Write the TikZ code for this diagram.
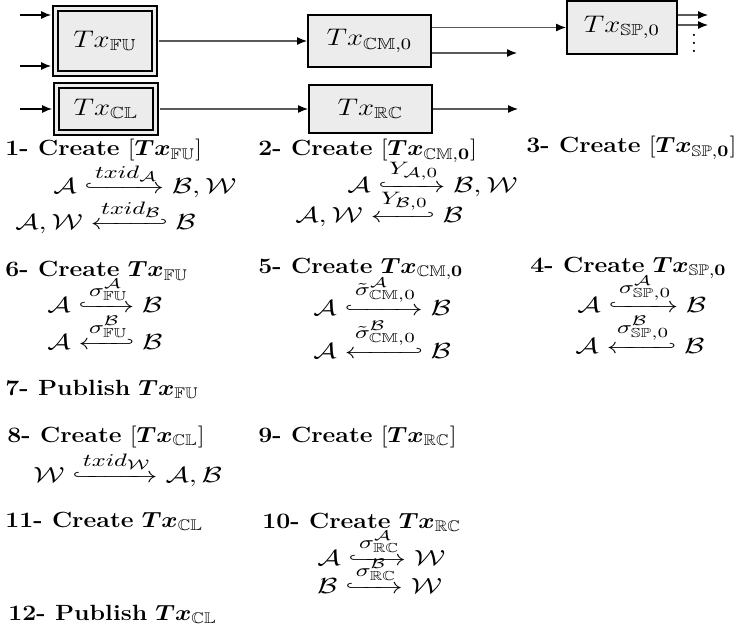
\documentclass[tikz,border=0pt]{standalone}
\usepackage{amssymb}
\usepackage{amsfonts}
\usepackage{mathtools}
\usepackage{bm}
\usepackage{graphicx}
\usetikzlibrary{arrows.meta}

\newcommand{\widetext}[1]{\scalebox{1.13}[1]{\fontsize{11}{13}\selectfont#1}}
\newcommand{\widemath}[1]{\scalebox{1.33}[1]{#1}}
\newcommand{\lbl}[1]{\mbox{\fontsize{9.3}{11}\selectfont$#1$}}

\begin{document}
\begin{tikzpicture}[x=0.5pt,y=0.5pt,yscale=-1,xscale=1,
  every node/.style={font=\fontsize{10.5}{13}\selectfont},
  txbox/.style={draw=black, line width=1pt, fill={rgb,255:red,236;green,236;blue,236}, inner sep=0pt, font=\fontsize{11.5}{14}\selectfont},
  txdbl/.style={txbox, double={rgb,255:red,236;green,236;blue,236}, double distance=1.4pt},
  flow/.style={draw={rgb,255:red,90;green,90;blue,90}, line width=0.6pt, -{Latex[length=5pt,width=4pt,color=black]}},
  step text/.style={anchor=base west, inner sep=0pt}]
\useasboundingbox (0,0) rectangle (740,626);

%Transaction boxes
\node [txdbl, minimum width=49.5pt, minimum height=32.5pt] (fu) at (105,41) {\scalebox{1.2}[1]{$Tx_{\mathbb{FU}}$}};
\node [txdbl, minimum width=49.5pt, minimum height=23.5pt] (cl) at (106,109) {\scalebox{1.2}[1]{$Tx_{\mathbb{CL}}$}};
\node [txbox, minimum width=61.5pt, minimum height=26pt] (cm) at (369.5,41) {\scalebox{1.2}[1]{$Tx_{\mathbb{CM},0}$}};
\node [txbox, minimum width=61.5pt, minimum height=24pt] (rc) at (370.5,109) {\scalebox{1.2}[1]{$Tx_{\mathbb{RC}}$}};
\node [txbox, minimum width=55pt, minimum height=26.5pt] (sp) at (622,27.5) {\scalebox{1.2}[1]{$Tx_{\mathbb{SP},0}$}};

%Free ends
\coordinate (fuin1) at (20,15);
\coordinate (fuin2) at (20,66);
\coordinate (clin) at (20,109);
\coordinate (cmout) at (517,53);
\coordinate (rcout) at (518,109);
\coordinate (spout1) at (708,15);
\coordinate (spout2) at (708,25);

%Straight Lines
\draw [flow, draw=black] (fuin1) -- ([xshift=-1.7pt]fuin1 -| fu.west);
\draw [flow, draw=black] (fuin2) -- ([xshift=-1.7pt]fuin2 -| fu.west);
\draw [flow, draw=black] (clin) -- ([xshift=-1.7pt]clin -| cl.west);
\draw [flow] ([xshift=1.7pt]fu.east) -- (cm.west);
\draw [flow] ([xshift=1.7pt]cl.east) -- (rc.west);
\draw [flow] (cm.east |- sp.west) -- (sp.west);
\draw [flow] (cmout -| cm.east) -- (cmout);
\draw [flow] (rcout -| rc.east) -- (rcout);
\draw [flow] (spout1 -| sp.east) -- (spout1);
\draw [flow] (spout2 -| sp.east) -- (spout2);
\node [inner sep=0pt] (spdots) at (694,37) {$\vdots$};

% Text Node
\node [step text] (s1) at (5,156) {\widetext{\textbf{1- Create} $[\bm{Tx}_{\mathbb{FU}}]$}};
\node [step text] (s1a) at (53,194) {\widemath{$\mathcal{A} \xhookrightarrow{\lbl{txid_{\mathcal{A}}}} \mathcal{B},\mathcal{W}$}};
\node [step text] (s1b) at (15,230) {\widemath{$\mathcal{A},\mathcal{W} \xhookleftarrow{\lbl{txid_{\mathcal{B}}}} \mathcal{B}$}};
% Text Node
\node [step text] (s2) at (258,156) {\widetext{\textbf{2- Create} $[\bm{Tx}_{\mathbb{CM},\bm{0}}]$}};
\node [step text] (s2a) at (347,193) {\widemath{$\mathcal{A} \xhookrightarrow{\lbl{Y_{\mathcal{A},0}}} \mathcal{B},\mathcal{W}$}};
\node [step text] (s2b) at (295,223) {\widemath{$\mathcal{A},\mathcal{W} \xhookleftarrow{\lbl{Y_{\mathcal{B},0}}} \mathcal{B}$}};
% Text Node
\node [step text] (s3) at (526,153) {\widetext{\textbf{3- Create} $[\bm{Tx}_{\mathbb{SP},\bm{0}}]$}};
% Text Node
\node [step text] (s6) at (5,277) {\widetext{\textbf{6- Create} $\bm{Tx}_{\mathbb{FU}}$}};
\node [step text] (s6a) at (47,313) {\widemath{$\mathcal{A} \xhookrightarrow{\lbl{\sigma^{\mathcal{A}}_{\mathbb{FU}}}} \mathcal{B}$}};
\node [step text] (s6b) at (47,350) {\widemath{$\mathcal{A} \xhookleftarrow{\lbl{\sigma^{\mathcal{B}}_{\mathbb{FU}}}} \mathcal{B}$}};
\node [step text] (s7) at (5,395) {\widetext{\textbf{7- Publish} $\bm{Tx}_{\mathbb{FU}}$}};
% Text Node
\node [step text] (s5) at (258,273) {\widetext{\textbf{5- Create} $\bm{Tx}_{\mathbb{CM},\bm{0}}$}};
\node [step text] (s5a) at (313,315) {\widemath{$\mathcal{A} \xhookrightarrow{\lbl{\tilde{\sigma}^{\mathcal{A}}_{\mathbb{CM},0}}} \mathcal{B}$}};
\node [step text] (s5b) at (313,358) {\widemath{$\mathcal{A} \xhookleftarrow{\lbl{\tilde{\sigma}^{\mathcal{B}}_{\mathbb{CM},0}}} \mathcal{B}$}};
% Text Node
\node [step text] (s4) at (530,272) {\widetext{\textbf{4- Create} $\bm{Tx}_{\mathbb{SP},\bm{0}}$}};
\node [step text] (s4a) at (577,313) {\widemath{$\mathcal{A} \xhookrightarrow{\lbl{\sigma^{\mathcal{A}}_{\mathbb{SP},0}}} \mathcal{B}$}};
\node [step text] (s4b) at (575,353) {\widemath{$\mathcal{A} \xhookleftarrow{\lbl{\sigma^{\mathcal{B}}_{\mathbb{SP},0}}} \mathcal{B}$}};
% Text Node
\node [step text] (s8) at (7,442) {\widetext{\textbf{8- Create} $[\bm{Tx}_{\mathbb{CL}}]$}};
\node [step text] (s8a) at (33,482) {\widemath{$\mathcal{W} \xhookrightarrow{\lbl{txid_{\mathcal{W}}}} \mathcal{A},\mathcal{B}$}};
\node [step text] (s9) at (258,442) {\widetext{\textbf{9- Create} $[\bm{Tx}_{\mathbb{RC}}]$}};
% Text Node
\node [step text] (s11) at (5,527) {\widetext{\textbf{11- Create} $\bm{Tx}_{\mathbb{CL}}$}};
\node [step text] (s10) at (262,528) {\widetext{\textbf{10- Create} $\bm{Tx}_{\mathbb{RC}}$}};
\node [step text] (s10a) at (317,565) {\widemath{$\mathcal{A} \xhookrightarrow{\lbl{\sigma^{\mathcal{A}}_{\mathbb{RC}}}} \mathcal{W}$}};
\node [step text] (s10b) at (317,593) {\widemath{$\mathcal{B} \xhookrightarrow{\lbl{\sigma^{\mathcal{B}}_{\mathbb{RC}}}} \mathcal{W}$}};
\node [step text] (s12) at (8,620) {\widetext{\textbf{12- Publish} $\bm{Tx}_{\mathbb{CL}}$}};

\end{tikzpicture}
\end{document}
